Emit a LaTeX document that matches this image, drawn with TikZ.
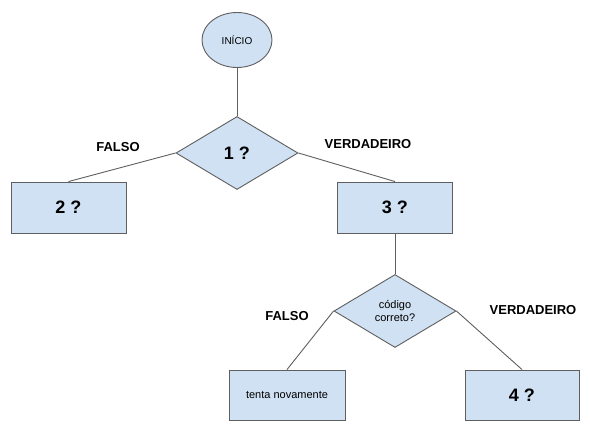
\documentclass[tikz,border=0pt]{standalone}
\usepackage{fontspec}
\setmainfont{Liberation Sans}
\usetikzlibrary{shapes.geometric}
\definecolor{boxfill}{HTML}{D0E1F3}
\definecolor{boxline}{HTML}{5F5F5F}
\begin{document}
\begin{tikzpicture}[x=1pt,y=-1pt,
  base/.style={draw=boxline,fill=boxfill,line width=0.9pt,inner sep=0pt},
  rectbox/.style={base,rectangle,minimum width=115pt,minimum height=51pt},
  decision/.style={base,diamond,minimum width=122pt,minimum height=73pt,aspect=1.67},
  startnode/.style={base,ellipse,minimum width=70pt,minimum height=55pt},
  lbl/.style={font=\fontsize{13}{13}\selectfont\bfseries},
  big/.style={font=\fontsize{18}{18}\selectfont\bfseries},
  conn/.style={draw=boxline,line width=0.9pt}
]
\useasboundingbox (0,0) rectangle (590,434);
\fill[white] (0,0) rectangle (590,434);
\node[startnode,font=\fontsize{10}{10}\selectfont] (ini) at (237,40) {INÍCIO};
\node[decision,big] (d1) at (237,153) {1 ?};
\node[rectbox,big] (r2) at (68.5,207.5) {2 ?};
\node[rectbox,big] (r3) at (395,207.5) {3 ?};
\node[decision,font=\fontsize{11}{13}\selectfont,align=center] (d2) at (395,311) {código\\correto?};
\node[rectbox,minimum width=116pt,minimum height=50pt,font=\fontsize{11}{11}\selectfont] (rt) at (287,395) {tenta novamente};
\node[rectbox,minimum width=114pt,minimum height=50pt,big] (r4) at (522,395) {4 ?};
\node[lbl] (f1) at (118,147) {FALSO};
\node[lbl] (v1) at (368,144) {VERDADEIRO};
\node[lbl] (f2) at (287,316) {FALSO};
\node[lbl] (v2) at (533,310) {VERDADEIRO};
\draw[conn] (ini.south) -- (d1.north);
\draw[conn] (d1.west) -- (r2.north);
\draw[conn] (d1.east) -- (r3.north);
\draw[conn] (r3.south) -- (d2.north);
\draw[conn] (d2.west) -- (rt.north);
\draw[conn] (d2.east) -- (r4.north);
\end{tikzpicture}
\end{document}
